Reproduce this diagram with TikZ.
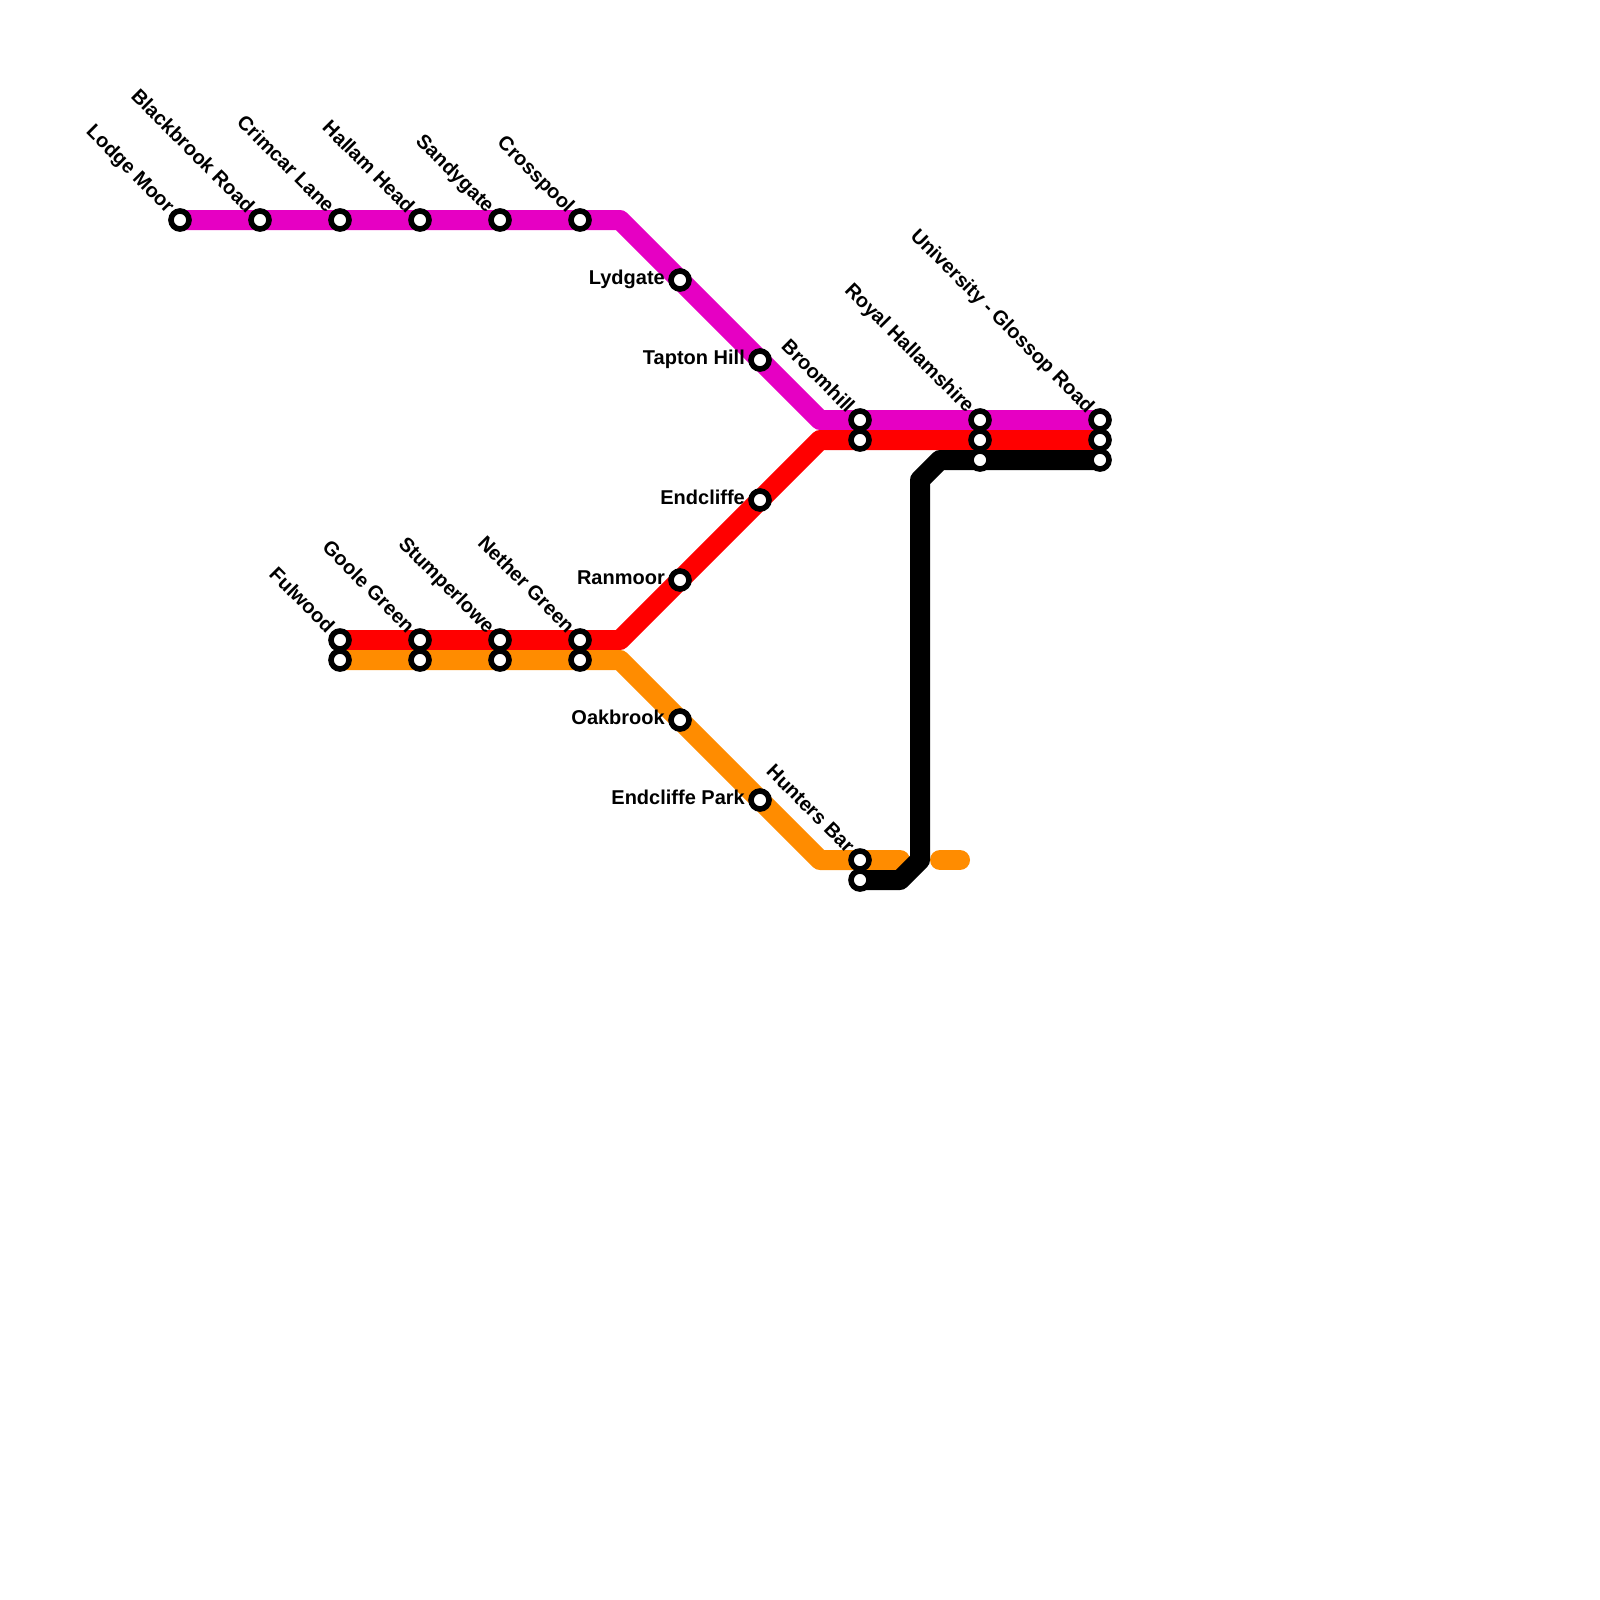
\documentclass[tikz,border=0pt]{standalone}
\usepackage{fontspec}
\setmainfont{Liberation Sans}
\begin{document}
\begin{tikzpicture}[x=1pt,y=-1pt,
  route/.style={line width=20pt,line cap=round,line join=round},
  stn/.style={circle,draw=black,fill=white,line width=5.6pt,minimum size=18pt,inner sep=0pt,outer sep=0pt},
  lab/.style={font=\fontsize{20}{20}\selectfont\bfseries,text=black,inner sep=0pt},
  diag/.style={lab,rotate=-45,anchor=base east},
  side/.style={lab,anchor=base east}]
\useasboundingbox (0,0) rectangle (1600,1600);
\definecolor{pur}{RGB}{230,0,195}
\definecolor{org}{RGB}{255,140,0}
% geometry
\foreach \n/\x/\y in {a1/180/220,a2/260/220,a3/340/220,a4/420/220,a5/500/220,a6/580/220,a7/680/280,a8/760/360,
  b1/860/420,b2/980/420,b3/1100/420,c1/860/440,c2/980/440,c3/1100/440,d2/980/460,d3/1100/460,
  e1/760/500,e2/680/580,f1/340/640,f2/420/640,f3/500/640,f4/580/640,
  g1/340/660,g2/420/660,g3/500/660,g4/580/660,h1/680/720,h2/760/800,i1/860/860,i2/860/880,
  pA/620/220,pB/820/420,rA/820/440,rB/620/640,oA/620/660,oB/820/860,oC/900/860,oD/940/860,oE/960/860,
  kA/900/880,kB/920/860,kC/920/480,kD/940/460}
  {\coordinate (\n) at (\x,\y);}
% lines
\draw[route,pur] (a1)--(pA)--(pB)--(b3);
\draw[route,red] (c3)--(rA)--(rB)--(f1);
\draw[route,org] (g1)--(oA)--(oB)--(oC);
\draw[route,org] (oD)--(oE);
\draw[route,black] (i2)--(kA)--(kB)--(kC)--(kD)--(d3);
% stations
\foreach \n in {a1,a2,a3,a4,a5,a6,a7,a8,b1,b2,b3,c1,c2,c3,d2,d3,e1,e2,f1,f2,f3,f4,g1,g2,g3,g4,h1,h2,i1,i2}
  {\node[stn] (s\n) at (\n) {};}
% labels
\foreach \n/\t in {a1/Lodge Moor,a2/Blackbrook Road,a3/Crimcar Lane,a4/Hallam Head,a5/Sandygate,a6/Crosspool,
  b1/Broomhill,b2/Royal Hallamshire,b3/University - Glossop Road,
  f1/Fulwood,f2/Goole Green,f3/Stumperlowe,f4/Nether Green,i1/Hunters Bar}
  {\node[diag] (l\n) at ([shift={(-13.5,-6)}]\n) {\t};}
\foreach \n/\t in {a7/Lydgate,a8/Tapton Hill,e1/Endcliffe,e2/Ranmoor,h1/Oakbrook,h2/Endcliffe Park}
  {\node[side] (l\n) at ([shift={(-15,4.8)}]\n) {\t};}
\end{tikzpicture}
\end{document}
